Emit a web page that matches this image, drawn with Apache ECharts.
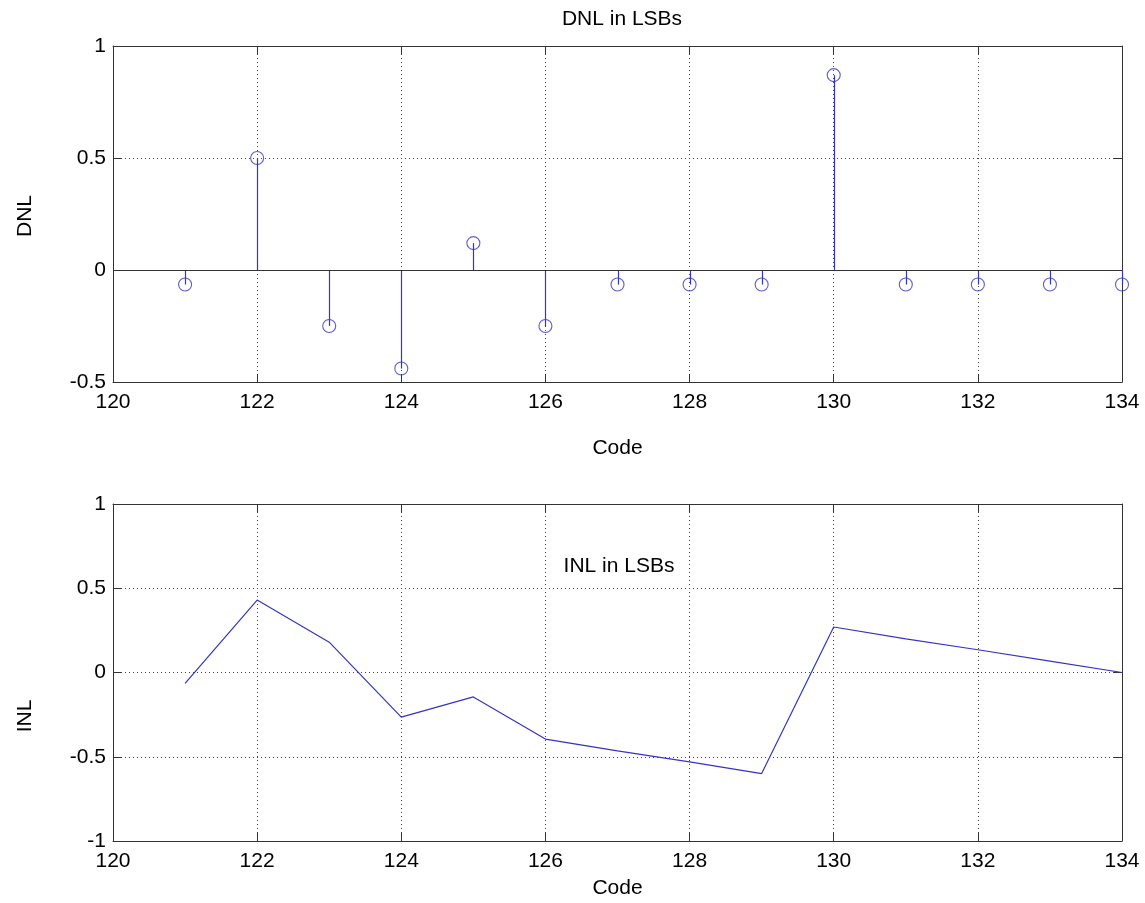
<!DOCTYPE html>
<html>
<head>
<meta charset="utf-8">
<title>DNL / INL</title>
<script src="https://cdn.jsdelivr.net/npm/echarts@6/dist/echarts.min.js"></script>
<style>
    html, body { margin: 0; padding: 0; background: #fff; }
    #chart { width: 1145px; height: 903px; }
</style>
</head>
<body>
<div id="chart"></div>
<script>
    // codes on the x axis
    const codes = [121, 122, 123, 124, 125, 126, 127, 128, 129, 130, 131, 132, 133, 134];
    // DNL in LSBs (stem plot)
    const dnlValues = [-0.065, 0.5, -0.25, -0.44, 0.12, -0.25, -0.065, -0.065, -0.065, 0.87, -0.065, -0.065, -0.065, -0.065];
    // INL in LSBs (line plot)
    const inlValues = [-0.065, 0.43, 0.18, -0.265, -0.145, -0.395, -0.465, -0.53, -0.6, 0.27, 0.2, 0.135, 0.068, 0.0];

    const FONT = 'Liberation Sans, Arial, sans-serif';
    const AXIS_COLOR = '#333';
    const BLUE = '#3434c4';

    const dnlData = codes.map((c, i) => [c, dnlValues[i]]);
    const inlData = codes.map((c, i) => [c, inlValues[i]]);

    // main (labelled) axis + mirror axis, so every plot gets a closed box with inner ticks
    function xAxes (gridIndex, nameGap) {
        const base = {
            type: 'value',
            gridIndex: gridIndex,
            min: 120,
            max: 134,
            interval: 2,
            axisLine: { show: true, onZero: false, lineStyle: { color: AXIS_COLOR, width: 1 } },
            axisTick: { show: true, inside: true, length: 8, lineStyle: { color: AXIS_COLOR } }
        };
        return [
            Object.assign({}, base, {
                position: 'bottom',
                name: 'Code',
                nameLocation: 'middle',
                nameGap: nameGap,
                nameTextStyle: { color: '#000', fontSize: 21, fontFamily: FONT },
                axisLabel: { color: '#000', fontSize: 21, fontFamily: FONT, margin: 10 },
                splitLine: { show: true, lineStyle: { color: '#444', type: [1, 3], width: 1 } }
            }),
            Object.assign({}, base, {
                position: 'top',
                axisLabel: { show: false },
                splitLine: { show: false }
            })
        ];
    }

    function yAxes (gridIndex, min, max) {
        const base = {
            type: 'value',
            gridIndex: gridIndex,
            min: min,
            max: max,
            interval: 0.5,
            axisLine: { show: true, onZero: false, lineStyle: { color: AXIS_COLOR, width: 1 } },
            axisTick: { show: true, inside: true, length: 8, lineStyle: { color: AXIS_COLOR } }
        };
        return [
            Object.assign({}, base, {
                position: 'left',
                axisLabel: { color: '#000', fontSize: 21, fontFamily: FONT, margin: 7 },
                splitLine: { show: true, lineStyle: { color: '#444', type: [1, 3], width: 1 } }
            }),
            Object.assign({}, base, {
                position: 'right',
                axisLabel: { show: false },
                splitLine: { show: false }
            })
        ];
    }

    const chart = echarts.init(document.getElementById('chart'), null, { renderer: 'canvas' });

    const option = {
        backgroundColor: '#fff',
        animation: false,
        title: [
            {
                text: 'DNL in LSBs',
                left: 617, top: 4, textAlign: 'center',
                textStyle: { color: '#000', fontSize: 21, fontWeight: 'normal', fontFamily: FONT }
            },
            {
                text: 'INL in LSBs',
                left: 614, top: 551, textAlign: 'center',
                textStyle: { color: '#000', fontSize: 21, fontWeight: 'normal', fontFamily: FONT }
            }
        ],
        grid: [
            { left: 113, right: 23, top: 46, height: 336 },
            { left: 113, right: 23, top: 504, height: 337 }
        ],
        xAxis: [].concat(xAxes(0, 56), xAxes(1, 37)),
        yAxis: [].concat(yAxes(0, -0.5, 1), yAxes(1, -1, 1)),
        // rotated y axis names, placed where the reference has them
        graphic: [
            {
                type: 'text', x: 25, y: 216, rotation: Math.PI / 2,
                style: { text: 'DNL', fill: '#000', font: '21px ' + FONT, textAlign: 'center', textVerticalAlign: 'middle' }
            },
            {
                type: 'text', x: 25, y: 716, rotation: Math.PI / 2,
                style: { text: 'INL', fill: '#000', font: '21px ' + FONT, textAlign: 'center', textVerticalAlign: 'middle' }
            }
        ],
        series: [
            {
                // baseline of the stem plot
                name: 'baseline',
                type: 'line',
                xAxisIndex: 0,
                yAxisIndex: 0,
                data: [],
                markLine: {
                    silent: true,
                    symbol: 'none',
                    label: { show: false },
                    lineStyle: { color: AXIS_COLOR, type: 'solid', width: 1 },
                    data: [{ yAxis: 0 }]
                }
            },
            {
                // stems, from 0 to the value (snapped to whole pixels so they stay crisp)
                name: 'DNL stem',
                type: 'custom',
                xAxisIndex: 0,
                yAxisIndex: 0,
                clip: false,
                z: 3,
                renderItem: function (params, api) {
                    const p0 = api.coord([api.value(0), 0]);
                    const p1 = api.coord([api.value(0), api.value(1)]);
                    const x = Math.round(p0[0]) + 0.5;
                    return {
                        type: 'line',
                        shape: { x1: x, y1: p0[1], x2: x, y2: p1[1] },
                        style: { stroke: BLUE, lineWidth: 1.2 }
                    };
                },
                data: dnlData
            },
            {
                // stem heads, hollow circles
                name: 'DNL',
                type: 'scatter',
                xAxisIndex: 0,
                yAxisIndex: 0,
                symbol: 'circle',
                symbolSize: 13,
                clip: false,
                z: 4,
                itemStyle: { color: 'rgba(0,0,0,0)', borderColor: BLUE, borderWidth: 1.1 },
                data: dnlData
            },
            {
                name: 'INL',
                type: 'line',
                xAxisIndex: 2,
                yAxisIndex: 2,
                showSymbol: false,
                lineStyle: { color: BLUE, width: 1.2 },
                data: inlData
            }
        ]
    };

    chart.setOption(option);
</script>
</body>
</html>
